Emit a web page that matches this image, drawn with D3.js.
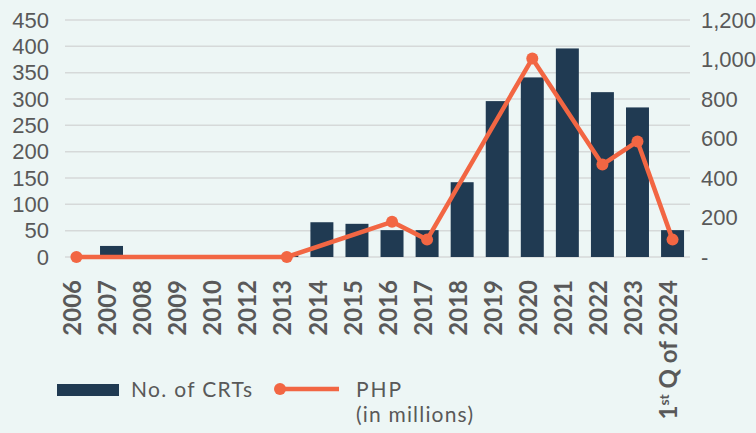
<!DOCTYPE html>
<html>
<head>
<meta charset="utf-8">
<script src="https://cdn.jsdelivr.net/npm/d3@7"></script>
<style>
  body { margin: 0; background: #edf6f5; }
  svg { display: block; font-family: "Lato", "Open Sans", sans-serif; }
</style>
</head>
<body>
<div id="chart"></div>
<script>
// categories on the x axis
var categories = ["2006", "2007", "2008", "2009", "2010", "2012", "2013", "2014", "2015",
                  "2016", "2017", "2018", "2019", "2020", "2021", "2022", "2023", "1st Q of 2024"];

// No. of CRTs (left axis)
var crts = [0, 21, 0, 0, 0, 0, 3, 66, 63, 51, 51, 142, 296, 341, 396, 313, 284, 51];

// PHP in millions (right axis), null = no point
var php = [0, null, null, null, null, null, 0, null, null, 178, 88, null, null, 1005, null, 468, 585, 88];

var leftTicks = [0, 50, 100, 150, 200, 250, 300, 350, 400, 450];
var rightTicks = [0, 200, 400, 600, 800, 1000, 1200];

function init() {
    var w = 756, h = 433;
    var top = 20, bottom = 257;

    var svg = d3.select("#chart")
                .append("svg")
                .attr("width", w)
                .attr("height", h);

    svg.append("rect").attr("width", w).attr("height", h).attr("fill", "#edf6f5");

    var xScale = d3.scaleBand()
                   .domain(categories)
                   .range([59, 690])
                   .paddingInner(0.345)
                   .paddingOuter(0.17);

    var yLeft = d3.scaleLinear().domain([0, 450]).range([bottom, top]);
    var yRight = d3.scaleLinear().domain([0, 1200]).range([bottom, top]);

    // gridlines
    svg.append("g")
       .selectAll("line")
       .data(leftTicks)
       .enter()
       .append("line")
       .attr("x1", 65)
       .attr("x2", 690)
       .attr("y1", function(d) { return yLeft(d); })
       .attr("y2", function(d) { return yLeft(d); })
       .attr("stroke", "#d6d9d9")
       .attr("stroke-width", 1.5);

    // left axis
    var leftAxis = svg.append("g")
       .attr("transform", "translate(49,0)")
       .call(d3.axisLeft(yLeft).tickValues(leftTicks).tickSize(0).tickPadding(0));
    leftAxis.select(".domain").remove();
    leftAxis.selectAll("text")
            .attr("fill", "#595959")
            .style("font-size", "22px");

    // right axis
    var rightAxis = svg.append("g")
       .attr("transform", "translate(701,0)")
       .call(d3.axisRight(yRight).tickValues(rightTicks).tickSize(0).tickPadding(0)
               .tickFormat(function(d) { return d === 0 ? "-" : d3.format(",")(d); }));
    rightAxis.select(".domain").remove();
    rightAxis.selectAll("text")
             .attr("fill", "#595959")
             .style("font-size", "22px");

    // bars
    svg.append("g")
       .selectAll("rect")
       .data(crts)
       .enter()
       .append("rect")
       .attr("x", function(d, i) { return xScale(categories[i]); })
       .attr("y", function(d) { return yLeft(d); })
       .attr("width", xScale.bandwidth())
       .attr("height", function(d) { return yLeft(0) - yLeft(d); })
       .attr("fill", "#203a52");

    // line (skip missing years)
    var pts = [];
    php.forEach(function(v, i) {
        if (v !== null) pts.push({ cat: categories[i], v: v });
    });

    var line = d3.line()
                 .x(function(d) { return xScale(d.cat) + xScale.bandwidth() / 2; })
                 .y(function(d) { return yRight(d.v); });

    svg.append("path")
       .datum(pts)
       .attr("d", line)
       .attr("fill", "none")
       .attr("stroke", "#f26643")
       .attr("stroke-width", 4.5)
       .attr("stroke-linejoin", "round");

    svg.append("g")
       .selectAll("circle")
       .data(pts)
       .enter()
       .append("circle")
       .attr("cx", function(d) { return xScale(d.cat) + xScale.bandwidth() / 2; })
       .attr("cy", function(d) { return yRight(d.v); })
       .attr("r", 6)
       .attr("fill", "#f26643");

    // x labels, rotated
    var xl = svg.append("g")
       .selectAll("text")
       .data(categories)
       .enter()
       .append("text")
       .attr("transform", function(d) {
           return "translate(" + (xScale(d) + xScale.bandwidth() / 2 - 4) + ",280) rotate(-90)";
       })
       .attr("text-anchor", "end")
       .attr("dy", "0.36em")
       .attr("fill", "#595959")
       .style("font-size", "24px")
       .style("font-weight", "bold");

    xl.each(function(d) {
        var t = d3.select(this);
        if (d.indexOf("1st") === 0) {
            t.append("tspan").text("1");
            t.append("tspan").text("st").attr("baseline-shift", "super").style("font-size", "14px");
            t.append("tspan").text(d.slice(3));
        } else {
            t.text(d);
        }
    });

    // legend
    var legend = svg.append("g");
    legend.append("rect")
          .attr("x", 57).attr("y", 384)
          .attr("width", 62).attr("height", 12)
          .attr("fill", "#203a52");
    legend.append("text")
          .attr("x", 131).attr("y", 397)
          .attr("fill", "#595959")
          .attr("textLength", 121)
          .style("font-size", "21px")
          .text("No. of CRTs");
    legend.append("line")
          .attr("x1", 280).attr("x2", 339)
          .attr("y1", 389).attr("y2", 389)
          .attr("stroke", "#f26643").attr("stroke-width", 4.5);
    legend.append("circle")
          .attr("cx", 280).attr("cy", 389).attr("r", 6)
          .attr("fill", "#f26643");
    legend.append("text")
          .attr("x", 356).attr("y", 397)
          .attr("fill", "#595959")
          .attr("textLength", 45)
          .style("font-size", "21px")
          .text("PHP");
    legend.append("text")
          .attr("x", 356).attr("y", 422)
          .attr("fill", "#595959")
          .attr("textLength", 117)
          .style("font-size", "21px")
          .text("(in millions)");
}

window.onload = init;
</script>
</body>
</html>
